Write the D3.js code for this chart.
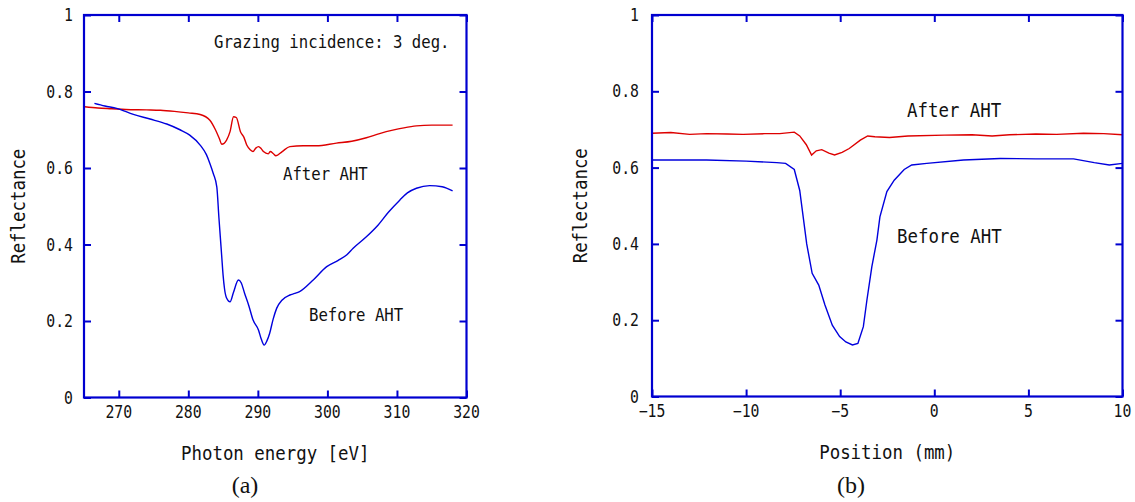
<!DOCTYPE html>
<html>
<head>
<meta charset="utf-8">
<script src="https://cdn.jsdelivr.net/npm/d3@7"></script>
<style>
  body { margin: 0; background: white; }
  svg { display: block; }
</style>
</head>
<body>
<div id="chart"></div>
<script>
// ---- data ----

// (a) reflectance vs photon energy
var energyAfter = [265.1, 267, 269, 271, 274, 276, 278, 280, 281.7, 283.1, 283.9, 284.5, 284.8, 285.5, 286.0,
    286.5, 286.9, 287.5, 288.0, 288.4, 288.9, 289.3, 289.7, 290.1, 290.5, 290.8, 291.5, 291.8, 292.2, 292.6,
    293.5, 294.6, 296.5, 298.4, 301.3, 303.5, 305.6, 307.5, 309.4, 311, 312.8, 315, 318];
var reflAfter = [0.760, 0.757, 0.755, 0.753, 0.752, 0.751, 0.748, 0.744, 0.740, 0.725, 0.700, 0.675, 0.662, 0.673, 0.695,
    0.734, 0.732, 0.695, 0.680, 0.660, 0.648, 0.643, 0.652, 0.656, 0.650, 0.643, 0.637, 0.643, 0.638, 0.632,
    0.643, 0.656, 0.658, 0.658, 0.665, 0.670, 0.679, 0.690, 0.699, 0.705, 0.710, 0.712, 0.712];

var energyBefore = [266.5, 268, 269.7, 272.1, 274.5, 276.9, 278.8, 280.2, 281.7, 282.6, 283.1, 283.6, 284.1, 284.4,
    284.6, 284.8, 285.0, 285.2, 285.5, 286.0, 286.5, 287.2, 287.6, 288.1, 288.7, 289.3, 290.1, 290.5, 290.9, 291.3,
    291.7, 292.2, 292.7, 293.5, 294.6, 295.3, 296.0, 298, 299.9, 301.5, 302.8, 303.7, 305.6, 307.1, 308.8,
    310.4, 311.5, 312.8, 314.7, 316.5, 318];
var reflBefore = [0.769, 0.762, 0.756, 0.740, 0.728, 0.715, 0.700, 0.686, 0.660, 0.635, 0.612, 0.585, 0.550, 0.470,
    0.420, 0.370, 0.320, 0.285, 0.260, 0.250, 0.275, 0.307, 0.300, 0.272, 0.240, 0.203, 0.176, 0.152, 0.137, 0.148,
    0.168, 0.205, 0.233, 0.255, 0.268, 0.272, 0.277, 0.308, 0.342, 0.358, 0.373, 0.390, 0.420, 0.447, 0.485,
    0.516, 0.535, 0.547, 0.554, 0.551, 0.540];

// (b) reflectance vs position
var posAfter = [-15, -14, -13, -12.1, -11, -10.16, -9, -8.21, -7.44, -7.15, -6.8, -6.52, -6.27, -5.98, -5.6,
    -5.30, -4.9, -4.52, -3.93, -3.54, -3.16, -2.38, -1.40, 0.54, 2, 3.07, 4, 5.40, 6.5, 7.93, 9, 10];
var reflPosAfter = [0.690, 0.692, 0.687, 0.689, 0.688, 0.687, 0.689, 0.689, 0.693, 0.683, 0.660, 0.633, 0.644, 0.647, 0.638,
    0.633, 0.640, 0.650, 0.672, 0.683, 0.681, 0.679, 0.683, 0.685, 0.686, 0.683, 0.686, 0.688, 0.687, 0.690, 0.689, 0.686];

var posBefore = [-15, -12.1, -10, -8.37, -7.9, -7.44, -7.15, -6.78, -6.49, -6.14, -5.81, -5.42, -5.03, -4.7, -4.35,
    -4.06, -3.77, -3.58, -3.32, -3.05, -2.89, -2.52, -2.13, -1.6, -1.2, -0.4, 1.55, 3.5, 5.4, 7.4, 8.5, 9.3, 10];
var reflPosBefore = [0.620, 0.620, 0.617, 0.613, 0.611, 0.595, 0.540, 0.400, 0.323, 0.292, 0.240, 0.187, 0.157, 0.143, 0.135,
    0.139, 0.183, 0.253, 0.340, 0.410, 0.471, 0.537, 0.567, 0.595, 0.607, 0.611, 0.620, 0.624, 0.623, 0.623, 0.613, 0.607, 0.611];

var yTicks = [0, 0.2, 0.4, 0.6, 0.8, 1];
var energyTicks = [270, 280, 290, 300, 310, 320];
var posTicks = [-15, -10, -5, 0, 5, 10];

// ---- layout ----
var width = 1135, height = 502;
var frameColor = "#0000d0";
var redColor = "#dd0000", blueColor = "#0000dd";
var textColor = "#111";
var squeeze = 0.87;   // narrow the mono font so it looks like the gothic face in the original
var gothic = "'DejaVu Sans Mono', monospace";

var svg = d3.select('#chart')
  .append('svg')
  .attr('width', width)
  .attr('height', height)
  .style("background-color", "white");

function label(parent, x, y, str, size, anchor, rot) {
    return parent.append("text")
        .attr("transform", "translate(" + x + "," + y + ")" + (rot ? " rotate(" + rot + ")" : "") + " scale(" + squeeze + ",1)")
        .attr("text-anchor", anchor || "start")
        .style("font-family", gothic)
        .style("font-size", size + "px")
        .style("fill", textColor)
        .text(str);
}

function drawPanel(p) {
    var x = d3.scaleLinear().domain(p.xDomain).range([p.left, p.right]);
    var y = d3.scaleLinear().domain([0, 1]).range([p.bottom, p.top]);
    var g = svg.append("g");

    // curves
    p.series.forEach(function (s) {
        var pts = s.xs.map(function (v, i) { return [v, s.ys[i]]; });
        g.append("path")
            .datum(pts)
            .attr("d", d3.line()
                .x(function (d) { return x(d[0]); })
                .y(function (d) { return y(d[1]); })
                .curve(p.curve))
            .style("fill", "none")
            .style("stroke", s.color)
            .style("stroke-width", 1.4);
    });

    // inward ticks on all four sides
    var tickLen = 7;
    function ticks(axis, tx, ty) {
        var a = g.append("g")
            .attr("transform", "translate(" + tx + "," + ty + ")")
            .call(axis.tickSize(-tickLen).tickFormat(""));
        a.select(".domain").remove();
        a.selectAll("line").style("stroke", frameColor).style("stroke-width", 2);
    }
    ticks(d3.axisBottom(x).tickValues(p.xTicks), 0, p.bottom);
    ticks(d3.axisTop(x).tickValues(p.xTicks), 0, p.top);
    ticks(d3.axisLeft(y).tickValues(yTicks), p.left, 0);
    ticks(d3.axisRight(y).tickValues(yTicks), p.right, 0);

    // frame
    g.append("rect")
        .attr("x", p.left).attr("y", p.top)
        .attr("width", p.right - p.left).attr("height", p.bottom - p.top)
        .style("fill", "none")
        .style("stroke", frameColor)
        .style("stroke-width", 2.2);

    // tick labels
    var fmtY = d3.format("~g");
    yTicks.forEach(function (v) {
        label(g, p.left - p.yLabelGap, y(v) + 6, fmtY(v), 17, "end");
    });
    var fmtX = d3.format("d");
    p.xTicks.forEach(function (v) {
        label(g, x(v), p.bottom + 20, fmtX(v), 17, "middle");
    });

    // axis titles
    label(g, (p.left + p.right) / 2, p.xTitleY, p.xTitle, 20, "middle");
    label(g, p.yTitleX, (p.top + p.bottom) / 2, "Reflectance", 20, "middle", -90);

    // panel letter
    g.append("text")
        .attr("x", p.letterX).attr("y", 493)
        .attr("text-anchor", "middle")
        .style("font-family", "'Liberation Serif', 'Times New Roman', serif")
        .style("font-size", "24px")
        .style("fill", textColor)
        .text(p.letter);

    // annotations
    p.notes.forEach(function (n) {
        label(g, n.x, n.y, n.text, n.size, "start");
    });
}

drawPanel({
    left: 84, right: 466.5, top: 15, bottom: 397.5,
    xDomain: [265, 320], xTicks: energyTicks,
    curve: d3.curveMonotoneX,
    yLabelGap: 11,
    xTitle: "Photon energy [eV]", xTitleY: 460, yTitleX: 25,
    letter: "(a)", letterX: 245,
    series: [
        {xs: energyAfter, ys: reflAfter, color: redColor},
        {xs: energyBefore, ys: reflBefore, color: blueColor}
    ],
    notes: [
        {text: "Grazing incidence: 3 deg.", x: 214, y: 48, size: 18},
        {text: "After AHT", x: 283, y: 180, size: 18},
        {text: "Before AHT", x: 309, y: 321, size: 18}
    ]
});

drawPanel({
    left: 652, right: 1122.5, top: 15, bottom: 396.5,
    xDomain: [-15, 10], xTicks: posTicks,
    curve: d3.curveLinear,
    yLabelGap: 13,
    xTitle: "Position (mm)", xTitleY: 459, yTitleX: 587,
    letter: "(b)", letterX: 851,
    series: [
        {xs: posAfter, ys: reflPosAfter, color: redColor},
        {xs: posBefore, ys: reflPosBefore, color: blueColor}
    ],
    notes: [
        {text: "After AHT", x: 907, y: 117, size: 20},
        {text: "Before AHT", x: 897, y: 243, size: 20}
    ]
});
</script>
</body>
</html>
